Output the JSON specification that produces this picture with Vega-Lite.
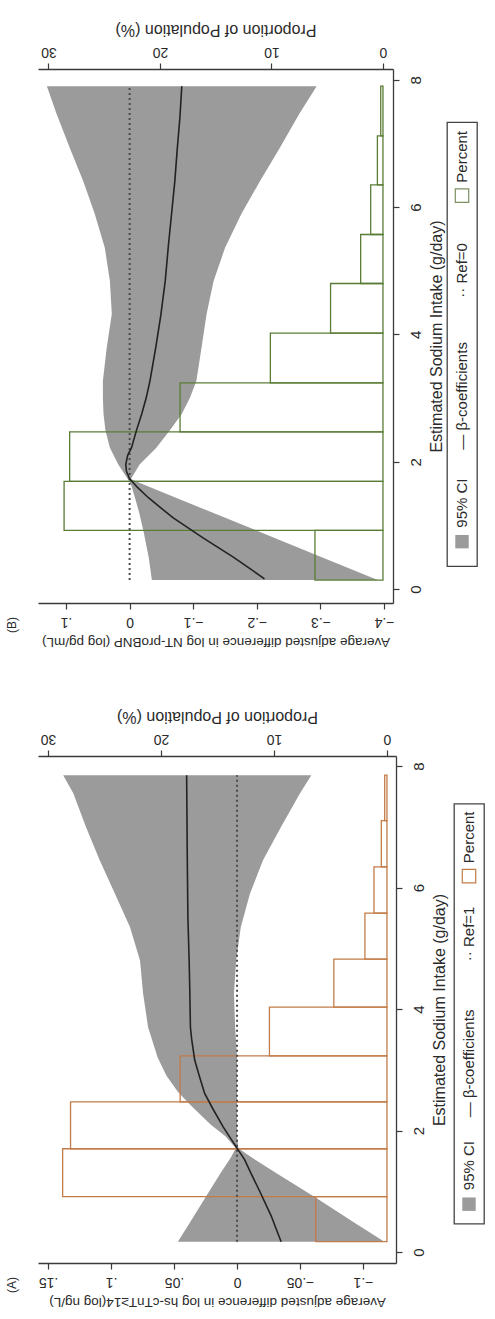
{
  "$schema": "https://vega.github.io/schema/vega-lite/v6.json",
  "background": "white",
  "padding": {"left": 6, "top": 20, "right": 4, "bottom": 4},
  "config": {
    "font": "Liberation Sans",
    "view": {"stroke": null},
    "title": {"font": "Liberation Sans", "fontWeight": "normal", "color": "#2a2a2a"},
    "axis": {
      "grid": false,
      "domainColor": "#3a3a3a", "domainWidth": 1.3,
      "tickColor": "#3a3a3a", "tickWidth": 1.2, "tickSize": 6,
      "labelColor": "#2a2a2a", "titleColor": "#2a2a2a",
      "labelFont": "Liberation Sans", "titleFont": "Liberation Sans",
      "labelFontSize": 14, "titleFontSize": 13.5, "titleFontWeight": "normal"
    }
  },
  "datasets": {
    "ciB": [
      {"s": 0.14, "lo": -0.390, "hi": -0.035},
      {"s": 0.5, "lo": -0.302, "hi": -0.030},
      {"s": 0.9, "lo": -0.204, "hi": -0.022},
      {"s": 1.2, "lo": -0.130, "hi": -0.015},
      {"s": 1.45, "lo": -0.069, "hi": -0.008},
      {"s": 1.65, "lo": -0.020, "hi": -0.002},
      {"s": 1.73, "lo": -0.002, "hi": 0.003},
      {"s": 1.96, "lo": -0.016, "hi": 0.018},
      {"s": 2.22, "lo": -0.042, "hi": 0.031},
      {"s": 2.49, "lo": -0.063, "hi": 0.038},
      {"s": 2.75, "lo": -0.082, "hi": 0.041},
      {"s": 3.01, "lo": -0.095, "hi": 0.042},
      {"s": 3.27, "lo": -0.105, "hi": 0.042},
      {"s": 3.79, "lo": -0.113, "hi": 0.036},
      {"s": 4.32, "lo": -0.121, "hi": 0.028},
      {"s": 4.84, "lo": -0.132, "hi": 0.031},
      {"s": 5.36, "lo": -0.150, "hi": 0.039},
      {"s": 5.9, "lo": -0.176, "hi": 0.055},
      {"s": 6.41, "lo": -0.205, "hi": 0.073},
      {"s": 6.93, "lo": -0.236, "hi": 0.094},
      {"s": 7.47, "lo": -0.267, "hi": 0.115},
      {"s": 7.9, "lo": -0.294, "hi": 0.130}
    ],
    "curveB": [
      {"s": 0.16, "b": -0.212},
      {"s": 0.3, "b": -0.192},
      {"s": 0.5, "b": -0.163},
      {"s": 0.8, "b": -0.116},
      {"s": 1.12, "b": -0.068},
      {"s": 1.43, "b": -0.030},
      {"s": 1.6, "b": -0.012},
      {"s": 1.73, "b": 0.000},
      {"s": 1.85, "b": 0.005},
      {"s": 1.96, "b": 0.006},
      {"s": 2.1, "b": 0.003},
      {"s": 2.22, "b": -0.003},
      {"s": 2.5, "b": -0.011},
      {"s": 2.75, "b": -0.019},
      {"s": 3.0, "b": -0.026},
      {"s": 3.27, "b": -0.032},
      {"s": 3.79, "b": -0.041},
      {"s": 4.3, "b": -0.049},
      {"s": 4.84, "b": -0.056},
      {"s": 5.4, "b": -0.061},
      {"s": 5.9, "b": -0.066},
      {"s": 6.4, "b": -0.071},
      {"s": 6.93, "b": -0.075},
      {"s": 7.4, "b": -0.079},
      {"s": 7.9, "b": -0.082}
    ],
    "barsB": [
      {"lo": 0.14, "hi": 0.92, "pct": 6.1},
      {"lo": 0.92, "hi": 1.69, "pct": 28.6},
      {"lo": 1.69, "hi": 2.47, "pct": 28.1},
      {"lo": 2.47, "hi": 3.24, "pct": 18.2},
      {"lo": 3.24, "hi": 4.02, "pct": 10.1},
      {"lo": 4.02, "hi": 4.80, "pct": 4.7},
      {"lo": 4.80, "hi": 5.57, "pct": 2.0},
      {"lo": 5.57, "hi": 6.35, "pct": 1.1},
      {"lo": 6.35, "hi": 7.12, "pct": 0.5},
      {"lo": 7.12, "hi": 7.90, "pct": 0.2}
    ],
    "ciA": [
      {"s": 0.17, "lo": -0.117, "hi": 0.047},
      {"s": 0.5, "lo": -0.092, "hi": 0.037},
      {"s": 0.9, "lo": -0.062, "hi": 0.025},
      {"s": 1.3, "lo": -0.031, "hi": 0.013},
      {"s": 1.55, "lo": -0.012, "hi": 0.005},
      {"s": 1.71, "lo": -0.001, "hi": 0.001},
      {"s": 1.9, "lo": 0.0, "hi": 0.009},
      {"s": 2.1, "lo": 0.0, "hi": 0.021},
      {"s": 2.4, "lo": 0.0, "hi": 0.036},
      {"s": 2.64, "lo": 0.0, "hi": 0.047},
      {"s": 2.9, "lo": 0.0, "hi": 0.056},
      {"s": 3.2, "lo": 0.0, "hi": 0.063},
      {"s": 3.7, "lo": 0.0015, "hi": 0.0706},
      {"s": 4.26, "lo": 0.0024, "hi": 0.0746},
      {"s": 4.8, "lo": 0.0007, "hi": 0.077},
      {"s": 5.35, "lo": -0.003, "hi": 0.085},
      {"s": 5.9, "lo": -0.0103, "hi": 0.097},
      {"s": 6.45, "lo": -0.0206, "hi": 0.109},
      {"s": 7.0, "lo": -0.035, "hi": 0.120},
      {"s": 7.55, "lo": -0.050, "hi": 0.130},
      {"s": 7.85, "lo": -0.059, "hi": 0.138}
    ],
    "curveA": [
      {"s": 0.17, "b": -0.035},
      {"s": 0.6, "b": -0.027},
      {"s": 1.0, "b": -0.018},
      {"s": 1.3, "b": -0.011},
      {"s": 1.52, "b": -0.006},
      {"s": 1.71, "b": 0.0},
      {"s": 1.9, "b": 0.006},
      {"s": 2.06, "b": 0.011},
      {"s": 2.35, "b": 0.019},
      {"s": 2.61, "b": 0.0257},
      {"s": 2.9, "b": 0.030},
      {"s": 3.16, "b": 0.0336},
      {"s": 3.5, "b": 0.036},
      {"s": 3.7, "b": 0.037},
      {"s": 4.3, "b": 0.0375},
      {"s": 4.8, "b": 0.038},
      {"s": 5.5, "b": 0.039},
      {"s": 6.5, "b": 0.0395},
      {"s": 7.85, "b": 0.040}
    ],
    "barsA": [
      {"lo": 0.17, "hi": 0.91, "pct": 6.3},
      {"lo": 0.91, "hi": 1.70, "pct": 28.7},
      {"lo": 1.70, "hi": 2.47, "pct": 28.0},
      {"lo": 2.47, "hi": 3.23, "pct": 18.3},
      {"lo": 3.23, "hi": 4.03, "pct": 10.4},
      {"lo": 4.03, "hi": 4.82, "pct": 4.7},
      {"lo": 4.82, "hi": 5.58, "pct": 1.95},
      {"lo": 5.58, "hi": 6.34, "pct": 1.15},
      {"lo": 6.34, "hi": 7.10, "pct": 0.5},
      {"lo": 7.10, "hi": 7.85, "pct": 0.2}
    ],
    "legendB": [
      {"key": "ci", "label": "95% CI"},
      {"key": "beta", "label": "—  β-coefficients"},
      {"key": "ref", "label": "··  Ref=0"},
      {"key": "pct", "label": "Percent"}
    ],
    "legendA": [
      {"key": "ci", "label": "95% CI"},
      {"key": "beta", "label": "—  β-coefficients"},
      {"key": "ref", "label": "··  Ref=1"},
      {"key": "pct", "label": "Percent"}
    ]
  },
  "vconcat": [
    {
      "hconcat": [
        {
          "width": 355,
          "height": 534,
          "title": {"text": "(B)", "orient": "left", "anchor": "start", "frame": "group", "fontSize": 12, "offset": 19, "dx": -30},
          "layer": [
            {
              "data": {"name": "ciB"},
              "mark": {"type": "area", "orient": "horizontal", "color": "#9b9b9b", "opacity": 1},
              "encoding": {
                "y": {"field": "s", "type": "quantitative", "title": "Estimated Sodium Intake (g/day)",
                      "scale": {"domain": [-0.22, 8.17], "nice": false, "zero": false},
                      "axis": {"orient": "right", "values": [0, 2, 4, 6, 8], "format": "d", "labelAngle": 270, "labelAlign": "center", "labelBaseline": "top", "labelFontSize": 15, "labelPadding": 9,
                               "titleAngle": 270, "titleBaseline": "top", "titleFontSize": 16, "titlePadding": 5}},
                "x": {"field": "lo", "type": "quantitative", "title": "Average adjusted difference in log NT-proBNP (log pg/mL)",
                      "scale": {"domain": [-0.414, 0.144], "reverse": true, "nice": false, "zero": false},
                      "axis": {"orient": "bottom", "values": [-0.4, -0.3, -0.2, -0.1, 0, 0.1], "labelAngle": 180, "labelAlign": "center", "labelBaseline": "bottom", "labelPadding": 5,
                               "titleAngle": 180, "titleBaseline": "bottom", "titlePadding": 6,
                               "labelExpr": "datum.value == 0 ? '0' : replace(format(datum.value, '~g'), '0.', '.')"}},
                "x2": {"field": "hi"}
              }
            },
            {
              "data": {"name": "barsB"},
              "mark": {"type": "rect", "filled": false, "color": "#5a7d36", "strokeWidth": 1.3},
              "encoding": {
                "y": {"field": "lo", "type": "quantitative", "title": "Estimated Sodium Intake (g/day)", "scale": {"domain": [-0.22, 8.17], "nice": false, "zero": false}},
                "y2": {"field": "hi"},
                "x": {"field": "pct", "type": "quantitative", "title": "Proportion of Population (%)",
                      "scale": {"domain": [-0.9, 30.94], "reverse": true, "nice": false, "zero": false},
                      "axis": {"orient": "top", "values": [0, 10, 20, 30], "labelAngle": 180, "labelAlign": "center", "labelBaseline": "top", "labelPadding": 5,
                               "titleAngle": 180, "titleBaseline": "top", "titleFontSize": 16, "titlePadding": 7}},
                "x2": {"datum": 0}
              }
            },
            {
              "layer": [
                {
                  "data": {"name": "ciB"},
                  "mark": {"type": "line", "color": "#4a4a4a", "strokeWidth": 2, "strokeDash": [2, 3]},
                  "encoding": {
                    "y": {"field": "s", "type": "quantitative", "title": "Estimated Sodium Intake (g/day)", "scale": {"domain": [-0.22, 8.17], "nice": false, "zero": false}},
                    "x": {"datum": 0, "type": "quantitative", "scale": {"domain": [-0.414, 0.144], "reverse": true, "nice": false, "zero": false}, "axis": null},
                    "order": {"field": "s", "type": "quantitative"}
                  }
                },
                {
                  "data": {"name": "curveB"},
                  "mark": {"type": "line", "color": "#222222", "strokeWidth": 1.6},
                  "encoding": {
                    "y": {"field": "s", "type": "quantitative", "title": "Estimated Sodium Intake (g/day)", "scale": {"domain": [-0.22, 8.17], "nice": false, "zero": false}},
                    "x": {"field": "b", "type": "quantitative", "scale": {"domain": [-0.414, 0.144], "reverse": true, "nice": false, "zero": false}, "axis": null},
                    "order": {"field": "s", "type": "quantitative"}
                  }
                }
              ]
            }
          ],
          "resolve": {"scale": {"x": "independent"}}
        },
        {
          "width": 30,
          "height": 444,
          "title": {"text": "\u00a0", "orient": "bottom", "fontSize": 10, "offset": 18},
          "view": {"stroke": "#444444", "strokeWidth": 1.3},
          "data": {"name": "legendB"},
          "encoding": {
            "y": {"field": "key", "type": "nominal", "axis": null,
                  "scale": {"domain": ["pct", "ref", "beta", "ci"], "paddingInner": 0, "paddingOuter": 0}}
          },
          "layer": [
            {"transform": [{"filter": "datum.key == 'ci'"}], "mark": {"type": "square", "size": 180, "filled": true, "color": "#9b9b9b", "opacity": 1, "yOffset": 31}},
            {"transform": [{"filter": "datum.key == 'pct'"}], "mark": {"type": "square", "size": 180, "filled": false, "color": "#7d9060", "strokeWidth": 1.2, "opacity": 1, "yOffset": 18}},
            {"transform": [{"filter": "datum.key == 'ci'"}], "mark": {"type": "text", "angle": 270, "align": "left", "baseline": "middle", "fontSize": 15, "color": "#2a2a2a", "yOffset": 17}, "encoding": {"text": {"field": "label"}}},
            {"transform": [{"filter": "datum.key == 'beta'"}], "mark": {"type": "text", "angle": 270, "align": "left", "baseline": "middle", "fontSize": 15, "color": "#2a2a2a", "yOffset": 50}, "encoding": {"text": {"field": "label"}}},
            {"transform": [{"filter": "datum.key == 'ref'"}], "mark": {"type": "text", "angle": 270, "align": "left", "baseline": "middle", "fontSize": 15, "color": "#2a2a2a", "yOffset": 9}, "encoding": {"text": {"field": "label"}}},
            {"transform": [{"filter": "datum.key == 'pct'"}], "mark": {"type": "text", "angle": 270, "align": "left", "baseline": "middle", "fontSize": 15, "color": "#2a2a2a", "yOffset": 5}, "encoding": {"text": {"field": "label"}}}
          ]
        }
      ],
      "spacing": 2,
      "center": true
    },
    {
      "hconcat": [
        {
          "width": 358,
          "height": 507,
          "title": {"text": "(A)", "orient": "left", "anchor": "start", "frame": "group", "fontSize": 12, "offset": 19, "dx": -30},
          "layer": [
            {
              "data": {"name": "ciA"},
              "mark": {"type": "area", "orient": "horizontal", "color": "#9b9b9b", "opacity": 1},
              "encoding": {
                "y": {"field": "s", "type": "quantitative", "title": "Estimated Sodium Intake (g/day)",
                      "scale": {"domain": [-0.181, 8.165], "nice": false, "zero": false},
                      "axis": {"orient": "right", "values": [0, 2, 4, 6, 8], "format": "d", "labelAngle": 270, "labelAlign": "center", "labelBaseline": "top", "labelFontSize": 15, "labelPadding": 9,
                               "titleAngle": 270, "titleBaseline": "top", "titleFontSize": 16, "titlePadding": 5}},
                "x": {"field": "lo", "type": "quantitative", "title": "Average adjusted difference in log hs-cTnT≥14(log ng/L)",
                      "scale": {"domain": [-0.1262, 0.158], "reverse": true, "nice": false, "zero": false},
                      "axis": {"orient": "bottom", "values": [-0.1, -0.05, 0, 0.05, 0.1, 0.15], "labelAngle": 180, "labelAlign": "center", "labelBaseline": "bottom", "labelPadding": 5,
                               "titleAngle": 180, "titleBaseline": "bottom", "titlePadding": 6,
                               "labelExpr": "datum.value == 0 ? '0' : replace(format(datum.value, '~g'), '0.', '.')"}},
                "x2": {"field": "hi"}
              }
            },
            {
              "data": {"name": "barsA"},
              "mark": {"type": "rect", "filled": false, "color": "#c27c48", "strokeWidth": 1.3},
              "encoding": {
                "y": {"field": "lo", "type": "quantitative", "title": "Estimated Sodium Intake (g/day)", "scale": {"domain": [-0.181, 8.165], "nice": false, "zero": false}},
                "y2": {"field": "hi"},
                "x": {"field": "pct", "type": "quantitative", "title": "Proportion of Population (%)",
                      "scale": {"domain": [-0.8, 30.88], "reverse": true, "nice": false, "zero": false},
                      "axis": {"orient": "top", "values": [0, 10, 20, 30], "labelAngle": 180, "labelAlign": "center", "labelBaseline": "top", "labelPadding": 5,
                               "titleAngle": 180, "titleBaseline": "top", "titleFontSize": 16, "titlePadding": 7}},
                "x2": {"datum": 0}
              }
            },
            {
              "layer": [
                {
                  "data": {"name": "ciA"},
                  "mark": {"type": "line", "color": "#4a4a4a", "strokeWidth": 2, "strokeDash": [2, 3]},
                  "encoding": {
                    "y": {"field": "s", "type": "quantitative", "title": "Estimated Sodium Intake (g/day)", "scale": {"domain": [-0.181, 8.165], "nice": false, "zero": false}},
                    "x": {"datum": 0, "type": "quantitative", "scale": {"domain": [-0.1262, 0.158], "reverse": true, "nice": false, "zero": false}, "axis": null},
                    "order": {"field": "s", "type": "quantitative"}
                  }
                },
                {
                  "data": {"name": "curveA"},
                  "mark": {"type": "line", "color": "#222222", "strokeWidth": 1.6},
                  "encoding": {
                    "y": {"field": "s", "type": "quantitative", "title": "Estimated Sodium Intake (g/day)", "scale": {"domain": [-0.181, 8.165], "nice": false, "zero": false}},
                    "x": {"field": "b", "type": "quantitative", "scale": {"domain": [-0.1262, 0.158], "reverse": true, "nice": false, "zero": false}, "axis": null},
                    "order": {"field": "s", "type": "quantitative"}
                  }
                }
              ]
            }
          ],
          "resolve": {"scale": {"x": "independent"}}
        },
        {
          "width": 30,
          "height": 420,
          "title": {"text": "\u00a0", "orient": "bottom", "fontSize": 10, "offset": 26},
          "view": {"stroke": "#444444", "strokeWidth": 1.3},
          "data": {"name": "legendA"},
          "encoding": {
            "y": {"field": "key", "type": "nominal", "axis": null,
                  "scale": {"domain": ["pct", "ref", "beta", "ci"], "paddingInner": 0, "paddingOuter": 0}}
          },
          "layer": [
            {"transform": [{"filter": "datum.key == 'ci'"}], "mark": {"type": "square", "size": 180, "filled": true, "color": "#9b9b9b", "opacity": 1, "yOffset": 33}},
            {"transform": [{"filter": "datum.key == 'pct'"}], "mark": {"type": "square", "size": 180, "filled": false, "color": "#c27c48", "strokeWidth": 1.2, "opacity": 1, "yOffset": 20}},
            {"transform": [{"filter": "datum.key == 'ci'"}], "mark": {"type": "text", "angle": 270, "align": "left", "baseline": "middle", "fontSize": 15, "color": "#2a2a2a", "yOffset": 19}, "encoding": {"text": {"field": "label"}}},
            {"transform": [{"filter": "datum.key == 'beta'"}], "mark": {"type": "text", "angle": 270, "align": "left", "baseline": "middle", "fontSize": 15, "color": "#2a2a2a", "yOffset": 51}, "encoding": {"text": {"field": "label"}}},
            {"transform": [{"filter": "datum.key == 'ref'"}], "mark": {"type": "text", "angle": 270, "align": "left", "baseline": "middle", "fontSize": 15, "color": "#2a2a2a", "yOffset": 0}, "encoding": {"text": {"field": "label"}}},
            {"transform": [{"filter": "datum.key == 'pct'"}], "mark": {"type": "text", "angle": 270, "align": "left", "baseline": "middle", "fontSize": 15, "color": "#2a2a2a", "yOffset": 7}, "encoding": {"text": {"field": "label"}}}
          ]
        }
      ],
      "spacing": 6,
      "center": true
    }
  ],
  "spacing": 59
}
